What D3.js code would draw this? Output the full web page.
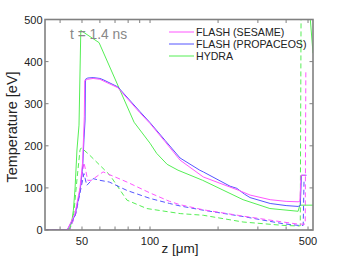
<!DOCTYPE html>
<html lang="en">
<head>
<meta charset="utf-8">
<script src="https://cdn.jsdelivr.net/npm/d3@7"></script>
<style>
body { margin: 0; background: #fff; }
text { font-family: "Liberation Sans", Arial, sans-serif; }
</style>
</head>
<body>
<script>
var w = 346, h = 260;
var margin = {left: 45, right: 33, top: 19.5, bottom: 30};

// [z in micron, T in eV]; null breaks a line
var sesame = [[34,0],[43,0],[46.5,38],[49,100],[50.3,160],[50.8,220],[51.2,270],[51.4,355],[53,358],[56,360],[60,358],
  [72,338],[90,279],[100,253],[116.5,210],[135.8,166],[172,126],[246,94.5],[277,83],[340,72],[400,68],[452,67],
  [460,68],[466,130],[490,130]];
var propaceos = [[34,0],[43,0],[46.6,35],[49.1,95],[50.4,154],[51,214],[51.6,261],[51.8,358],[53,361],[56,362],[60,360],
  [62,357],[72,340],[90.3,281],[100,255],[116.5,213],[135.8,171],[166,142],[172,138],[226,104],[242,99],[262,85],
  [277,77],[340,63],[400,58],[452,56],[462,58],[468,130],[492,130]];
var hydra = [[34,0],[42.5,0],[44.3,5],[45.2,25],[45.8,47],[46.6,100],[47.5,190],[48.5,249],[49.4,474],[59.5,445],
  [85,256],[100,206],[107,182],[119,156],[133,142],[171,118],[258,72],[339,51],[452,44.5],[460,59],[530,59],
  null,[505,540],[526,420]];
var sesameIon = [[34,0],[44,0],[47,40],[49.5,110],[51,160],[52,140],[53,118],[55,118],[62,138],[79,114],[100,88],
  [122,68],[136,60],[172,48],[258,33],[387,19],[452,14],[486,14],[489,380]];
var propaceosIon = [[34,0],[44,0],[47,40],[49.5,100],[51,134],[52.5,106],[56,122],[60,118],[66,114],[79,94],[100,75],
  [122,63],[136,57],[172,47],[258,32],[387,15],[452,11],[476,11],[480,115]];
var hydraIon = [[34,0],[44,0],[46,40],[47.5,120],[49,190],[49.6,195],[51,190],[54,178],[66.5,130],[79,71],[96.7,51],
  [136,39],[172,35],[258,19],[387,11],[452,9.5],[462,10],[466,540]];

var names = ["FLASH (SESAME)", "FLASH (PROPACEOS)", "HYDRA"];
var colors = ["#ff55ff", "#5555ff", "#55ee55"];
var xTickVals = [50, 100, 500];
var xMinor = [40, 60, 70, 80, 90, 200, 300, 400];
var yTickVals = [0, 100, 200, 300, 400, 500];

var series = [
  {d: sesame, c: 0, dash: null}, {d: propaceos, c: 1, dash: null}, {d: hydra, c: 2, dash: null},
  {d: sesameIon, c: 0, dash: "5,3"}, {d: propaceosIon, c: 1, dash: "5,3"}, {d: hydraIon, c: 2, dash: "5,3"}
];

var svg = d3.select("body").append("svg").attr("width", w).attr("height", h);

var x = d3.scaleLog().domain([34.3, 526]).range([margin.left, w - margin.right]);
var y = d3.scaleLinear().domain([0, 500]).range([h - margin.bottom, margin.top]);

svg.append("clipPath").attr("id", "clip").append("rect")
  .attr("x", margin.left).attr("y", margin.top)
  .attr("width", w - margin.left - margin.right).attr("height", h - margin.top - margin.bottom);

var line = d3.line().defined(function(d){ return d !== null; })
  .x(function(d){ return x(d[0]); }).y(function(d){ return y(d[1]); });

var g = svg.append("g").attr("clip-path", "url(#clip)");
// draw dashed first, then solid
series.slice().reverse().forEach(function(s){
  g.append("path").attr("d", line(s.d)).attr("fill", "none")
    .attr("stroke", colors[s.c]).attr("stroke-width", 1)
    .attr("stroke-dasharray", s.dash);
});

// axes (box with inward ticks)
var axisColor = "#808080";
var x0 = margin.left, x1 = w - margin.right, y0 = h - margin.bottom, y1 = margin.top;
var ax = svg.append("g").attr("stroke", axisColor).attr("stroke-width", 1);
xTickVals.concat(xMinor).forEach(function(v){
  ax.append("line").attr("x1", x(v)).attr("x2", x(v)).attr("y1", y0).attr("y2", y0 - 3.5);
  ax.append("line").attr("x1", x(v)).attr("x2", x(v)).attr("y1", y1).attr("y2", y1 + 3.5);
});
yTickVals.forEach(function(v){
  ax.append("line").attr("x1", x0).attr("x2", x0 + 3.5).attr("y1", y(v)).attr("y2", y(v));
  ax.append("line").attr("x1", x1).attr("x2", x1 - 3.5).attr("y1", y(v)).attr("y2", y(v));
});
svg.append("rect").attr("x", x0).attr("y", y1).attr("width", x1 - x0).attr("height", y0 - y1)
  .attr("fill", "none").attr("stroke", axisColor).attr("stroke-width", 1.6);

svg.selectAll(".xl").data(xTickVals).enter().append("text")
  .attr("x", function(d){ return x(d); }).attr("y", y0 + 14.5)
  .attr("text-anchor", "middle").attr("font-size", 11).attr("fill", "#222").text(function(d){ return d; });
svg.selectAll(".yl").data(yTickVals).enter().append("text")
  .attr("x", x0 - 2.5).attr("y", function(d){ return y(d) + 4; })
  .attr("text-anchor", "end").attr("font-size", 11).attr("fill", "#222").text(function(d){ return d; });

svg.append("text").attr("x", 180).attr("y", 253).attr("text-anchor", "middle")
  .attr("font-size", 13.5).attr("fill", "#222").text("z [μm]");
svg.append("text").attr("transform", "translate(16.5," + 127 + ") rotate(-90)")
  .attr("text-anchor", "middle").attr("font-size", 14.5).attr("fill", "#222").text("Temperature [eV]");

svg.append("text").attr("x", 70).attr("y", 39).attr("font-size", 13.8).attr("fill", "#888").text("t = 1.4 ns");

// legend
var leg = svg.append("g");
names.forEach(function(n, i){
  var ly = 32 + i * 12;
  leg.append("line").attr("x1", 169).attr("x2", 194).attr("y1", ly).attr("y2", ly)
    .attr("stroke", colors[i]).attr("stroke-width", 1);
  leg.append("text").attr("x", 196).attr("y", ly + 3.8).attr("font-size", 10.6).attr("fill", "#222").text(n);
});
</script>
</body>
</html>
